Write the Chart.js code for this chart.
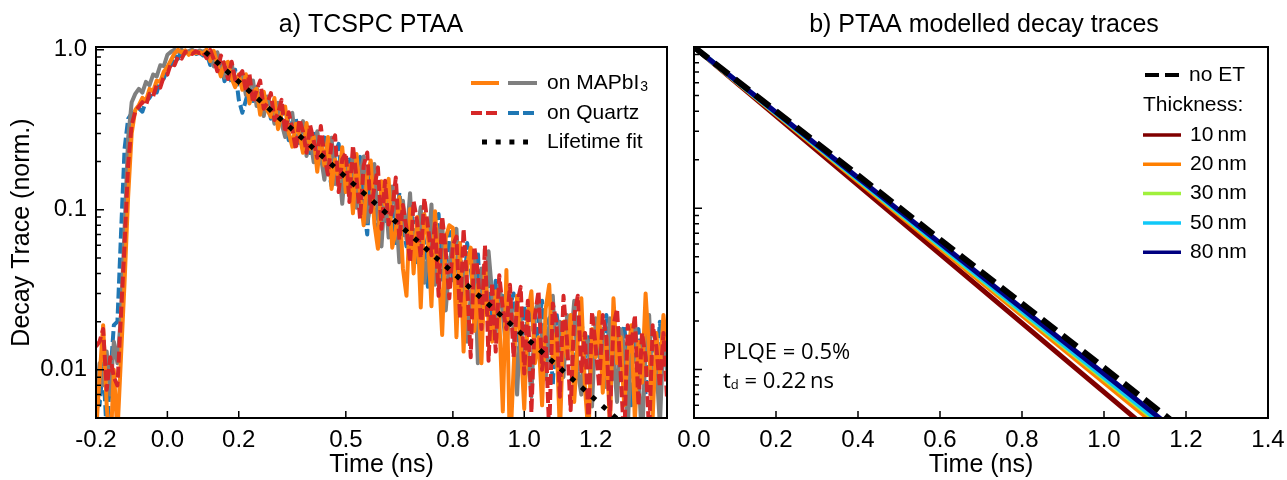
<!DOCTYPE html>
<html>
<head>
<meta charset="utf-8">
<script src="https://cdn.jsdelivr.net/npm/chart.js@4.4.0/dist/chart.umd.min.js"></script>
<style>
  body { margin: 0; background: #fff; width: 1287px; height: 480px; overflow: hidden; position: relative; }
  #wa { position: absolute; left: 0; top: 0; width: 680px; height: 480px; }
  #wb { position: absolute; left: 655px; top: 0; width: 632px; height: 480px; }
</style>
</head>
<body>
<div id="wa"><canvas id="chartA"></canvas></div>
<div id="wb"><canvas id="chartB"></canvas></div>
<script>
// ---- panel a: TCSPC traces (time in ns, normalised counts) ----
const times = [
  -0.20,-0.19,-0.18,-0.17,-0.16,-0.15,-0.14,-0.13,-0.12,-0.11,
  -0.10,-0.09,-0.08,-0.07,-0.06,-0.05,-0.04,-0.03,-0.02,-0.01,
  0.00,0.01,0.02,0.03,0.04,0.05,0.06,0.07,0.08,0.09,
  0.10,0.11,0.12,0.13,0.14,0.15,0.16,0.17,0.18,0.19,
  0.20,0.21,0.22,0.23,0.24,0.25,0.26,0.27,0.28,0.29,
  0.30,0.31,0.32,0.33,0.34,0.35,0.36,0.37,0.38,0.39,
  0.40,0.41,0.42,0.43,0.44,0.45,0.46,0.47,0.48,0.49,
  0.50,0.51,0.52,0.53,0.54,0.55,0.56,0.57,0.58,0.59,
  0.60,0.61,0.62,0.63,0.64,0.65,0.66,0.67,0.68,0.69,
  0.70,0.71,0.72,0.73,0.74,0.75,0.76,0.77,0.78,0.79,
  0.80,0.81,0.82,0.83,0.84,0.85,0.86,0.87,0.88,0.89,
  0.90,0.91,0.92,0.93,0.94,0.95,0.96,0.97,0.98,0.99,
  1.00,1.01,1.02,1.03,1.04,1.05,1.06,1.07,1.08,1.09,
  1.10,1.11,1.12,1.13,1.14,1.15,1.16,1.17,1.18,1.19,
  1.20,1.21,1.22,1.23,1.24,1.25,1.26,1.27,1.28,1.29,
  1.30,1.31,1.32,1.33,1.34,1.35,1.36,1.37,1.38,1.39,
  1.40
];

const mapiOrange = [
  0.004,0.009,0.019,0.006,0.003,0.010,0.004,0.012,0.035,0.12,
  0.30,0.42,0.45,0.50,0.48,0.57,0.55,0.64,0.63,0.73,
  0.78,0.86,0.95,1.0,0.96,0.99,0.93,0.98,0.95,0.97,
  0.94,
  1.0,0.849,0.985,0.812,0.682,0.820,0.841,0.661,0.584,0.700,
  0.562,0.702,0.462,0.542,0.572,0.392,0.547,0.419,0.381,0.500,
  0.319,0.398,0.441,0.303,0.248,0.345,0.293,0.227,0.348,0.241,
  0.286,0.173,0.281,0.189,0.285,0.135,0.206,0.155,0.246,0.129,
  0.189,0.095,0.223,0.123,0.080,0.165,0.203,0.082,0.057,0.151,
  0.108,0.156,0.058,0.074,0.120,0.043,0.029,0.101,0.040,0.090,
  0.0245,0.094,0.069,0.025,0.098,0.044,0.0165,0.067,0.080,0.077,
  0.016,0.062,0.013,0.046,0.058,0.0175,0.034,0.011,0.046,0.020,
  0.015,0.031,0.021,0.0055,0.042,0.003,0.010,0.029,0.015,0.0057,
  0.022,0.031,0.011,0.016,0.006,0.024,0.034,0.011,0.017,0.004,
  0.020,0.012,0.022,0.0063,0.015,0.028,0.0078,0.0039,0.018,0.012,
  0.023,0.0072,0.016,0.0044,0.028,0.011,0.016,0.006,0.012,0.019,
  0.0048,0.015,0.0083,0.030,0.013,0.0051,0.017,0.0095,0.022,0.013
];

const mapiGrey = [
  0.006,0.011,0.008,0.013,0.007,0.015,0.011,0.022,0.075,0.28,
  0.47,0.53,0.57,0.54,0.63,0.60,0.70,0.68,0.80,0.79,
  0.93,0.97,1.0,0.97,1.0,0.96,0.98,1.0,0.96,0.99,
  0.97,
  1.0,0.913,0.787,0.964,0.816,0.670,0.783,0.823,0.616,0.635,
  0.685,0.523,0.582,0.641,0.445,0.533,0.385,0.510,0.443,0.345,
  0.466,0.346,0.285,0.385,0.403,0.260,0.281,0.358,0.217,0.282,
  0.198,0.309,0.215,0.154,0.248,0.282,0.145,0.197,0.109,0.204,
  0.132,0.222,0.103,0.166,0.215,0.084,0.108,0.193,0.088,0.059,
  0.134,0.067,0.140,0.103,0.047,0.114,0.065,0.127,0.049,0.072,
  0.104,0.035,0.050,0.108,0.034,0.070,0.086,0.0235,0.045,0.064,
  0.076,0.027,0.042,0.015,0.029,0.053,0.011,0.043,0.023,0.055,
  0.030,0.017,0.035,0.022,0.013,0.028,0.018,0.007,0.021,0.0076,
  0.014,0.0068,0.023,0.027,0.015,0.0088,0.019,0.029,0.0105,0.020,
  0.009,0.022,0.014,0.027,0.0098,0.007,0.017,0.014,0.0059,0.021,
  0.012,0.018,0.0078,0.021,0.0125,0.0063,0.018,0.014,0.0042,0.016,
  0.020,0.0096,0.0035,0.014,0.022,0.0068,0.011,0.0045,0.016,0.0099
];

const quartzRed = [
  0.014,0.015,0.018,0.0075,0.012,0.009,0.008,0.022,0.06,0.19,
  0.34,0.41,0.44,0.47,0.45,0.53,0.51,0.60,0.58,0.68,
  0.70,0.82,0.80,0.91,0.88,0.97,0.97,0.94,0.98,0.95,
  0.97,
  0.885,1.0,0.872,0.733,0.921,0.799,0.656,0.842,0.647,0.684,
  0.734,0.551,0.704,0.466,0.558,0.641,0.428,0.463,0.536,0.364,
  0.400,0.486,0.304,0.407,0.321,0.238,0.367,0.309,0.227,0.338,
  0.270,0.211,0.334,0.214,0.166,0.259,0.292,0.129,0.207,0.227,
  0.112,0.252,0.158,0.088,0.189,0.228,0.097,0.138,0.184,0.076,
  0.152,0.081,0.099,0.159,0.065,0.107,0.077,0.047,0.113,0.084,
  0.050,0.118,0.079,0.052,0.082,0.029,0.091,0.055,0.028,0.060,
  0.068,0.021,0.076,0.034,0.012,0.059,0.041,0.018,0.060,0.0114,
  0.035,0.013,0.039,0.024,0.018,0.034,0.012,0.026,0.033,0.0095,
  0.027,0.0054,0.022,0.031,0.010,0.016,0.004,0.026,0.020,0.0068,
  0.029,0.015,0.0056,0.022,0.029,0.0098,0.017,0.0046,0.023,0.014,
  0.0078,0.022,0.016,0.005,0.019,0.024,0.0096,0.0036,0.019,0.014,
  0.022,0.006,0.017,0.012,0.004,0.019,0.014,0.0078,0.017,0.0066
];

const quartzBlue = [
  0.010,0.006,0.011,0.004,0.009,0.019,0.02,0.07,0.24,0.37,
  0.40,0.41,0.43,0.41,0.48,0.50,0.55,0.54,0.64,0.66,
  0.76,0.80,0.92,0.88,0.99,0.95,0.96,0.98,0.94,0.96,
  0.92,
  0.955,0.803,0.916,0.772,0.878,0.635,0.727,0.628,0.750,0.488,
  0.404,0.483,0.582,0.478,0.585,0.414,0.462,0.522,0.371,0.434,
  0.354,0.429,0.352,0.272,0.354,0.371,0.248,0.269,0.312,0.226,
  0.307,0.190,0.224,0.283,0.185,0.141,0.226,0.258,0.139,0.163,
  0.206,0.121,0.173,0.214,0.106,0.070,0.173,0.114,0.070,0.127,
  0.085,0.137,0.115,0.062,0.128,0.080,0.059,0.099,0.082,0.047,
  0.086,0.062,0.033,0.086,0.063,0.094,0.035,0.047,0.073,0.035,
  0.047,0.058,0.025,0.062,0.043,0.026,0.055,0.020,0.031,0.040,
  0.020,0.036,0.025,0.029,0.015,0.025,0.030,0.018,0.011,0.025,
  0.018,0.025,0.013,0.020,0.027,0.014,0.021,0.008,0.023,0.015,
  0.012,0.021,0.017,0.0084,0.018,0.021,0.012,0.016,0.0091,0.020,
  0.016,0.010,0.022,0.014,0.0088,0.018,0.012,0.019,0.011,0.006,
  0.016,0.018,0.011,0.007,0.018,0.014,0.009,0.020,0.012,0.019
];

// mono-exponential fit, end points
const fitTimes = [0.106, 1.40];
const fitValues = [0.97, 0.0026];

// ---- panel b: modelled decays ----
const modelTimes = [0, 1.2];
const noET = [1, 0.0041];
const thickness = ['10\u2009nm', '20\u2009nm', '30\u2009nm', '50\u2009nm', '80\u2009nm'];
const thickColors = ['#800000', '#ff7f00', '#a0f03c', '#10c8f8', '#000080'];
const thickEnd = [0.0027, 0.0032, 0.0034, 0.0035, 0.0037];

// ticks
const xTicksA = [-0.2, 0.0, 0.2, 0.5, 0.8, 1.0, 1.2];
const xTicksB = [0.0, 0.2, 0.4, 0.6, 0.8, 1.0, 1.2, 1.4];
const yMajor = [0.01, 0.1, 1];
const yLabels = ['0.01', '0.1', '1.0'];
const yMinor = [0.006,0.007,0.008,0.009,0.02,0.03,0.04,0.05,0.06,0.07,0.08,0.09,
                0.2,0.3,0.4,0.5,0.6,0.7,0.8,0.9];

const SANS = '"Liberation Sans", Arial, sans-serif';
Chart.defaults.font.family = SANS;
Chart.defaults.color = '#000';

function pts(xs, ys) { return xs.map((x, i) => ({ x: x, y: ys[i] })); }

function seg(ctx, color, dash, x0, x1, y) {
  ctx.strokeStyle = color;
  ctx.setLineDash(dash);
  ctx.beginPath(); ctx.moveTo(x0, y); ctx.lineTo(x1, y); ctx.stroke();
  ctx.setLineDash([]);
}

// inward ticks, full frame, title and extra annotations
function makeFrame(cfg) {
  return {
    id: 'frame' + cfg.name,
    afterDraw(chart) {
      const ctx = chart.ctx, a = chart.chartArea;
      const xs = chart.scales.x, ys = chart.scales.y;
      ctx.save();
      ctx.strokeStyle = '#000';
      ctx.lineWidth = 1.5;
      ctx.beginPath();
      cfg.xTicks.forEach(v => {
        const p = xs.getPixelForValue(v);
        ctx.moveTo(p, a.bottom); ctx.lineTo(p, a.bottom - 7);
      });
      yMajor.forEach(v => {
        const p = ys.getPixelForValue(v);
        ctx.moveTo(a.left, p); ctx.lineTo(a.left + 8, p);
      });
      yMinor.forEach(v => {
        const p = ys.getPixelForValue(v);
        ctx.moveTo(a.left, p); ctx.lineTo(a.left + 5, p);
      });
      ctx.stroke();
      ctx.lineWidth = 2;
      ctx.strokeRect(a.left, a.top, a.right - a.left, a.bottom - a.top);

      ctx.fillStyle = '#000';
      ctx.font = '25px ' + SANS;
      ctx.textAlign = 'center';
      ctx.textBaseline = 'middle';
      ctx.fillText(cfg.title, cfg.titleX, 25);
      ctx.textAlign = 'left';
      cfg.extra(ctx);
      ctx.restore();
    }
  };
}

function legendA(ctx) {
  ctx.lineWidth = 4;
  ctx.lineCap = 'butt';
  seg(ctx, '#ff7f0e', [], 471, 499, 83);
  seg(ctx, '#7f7f7f', [], 508, 537, 83);
  seg(ctx, '#d62728', [11, 4], 471, 499, 113);
  seg(ctx, '#1f77b4', [11, 4], 508, 536, 113);
  ctx.lineWidth = 5;
  seg(ctx, '#000', [5, 8.7], 482, 528, 142);
  ctx.font = '21px ' + SANS;
  ctx.textBaseline = 'middle';
  ctx.fillText('on MAPbI', 547, 83);
  const w = ctx.measureText('on MAPbI').width;
  ctx.fillText('on Quartz', 547, 113);
  ctx.fillText('Lifetime fit', 547, 142);
  ctx.font = '14px ' + SANS;
  ctx.textBaseline = 'alphabetic';
  ctx.fillText('3', 547 + w + 1, 91);
}

function legendB(ctx) {
  ctx.lineCap = 'butt';
  ctx.lineWidth = 4;
  seg(ctx, '#000', [14, 6], 490, 524, 75);
  ctx.font = '21px ' + SANS;
  ctx.textBaseline = 'middle';
  ctx.fillText('no ET', 534, 75);
  ctx.fillText('Thickness:', 488, 105);
  ctx.lineWidth = 3.5;
  thickness.forEach((t, i) => {
    const y = 135 + i * 29.3;
    seg(ctx, thickColors[i], [], 488, 526, y);
    ctx.fillText(t, 535, y);
  });
  // annotation
  ctx.textBaseline = 'alphabetic';
  ctx.font = '22px "Open Sans", sans-serif';
  ctx.fillText('PLQE = 0.5%', 68, 359);
  ctx.fillText('t', 68, 388);
  const tw = ctx.measureText('t').width;
  ctx.font = '13px "Open Sans", sans-serif';
  ctx.fillText('d', 68 + tw, 389);
  const dw = ctx.measureText('d').width;
  ctx.font = '22px "Open Sans", sans-serif';
  ctx.fillText(' = 0.22\u2009ns', 68 + tw + dw, 388);
}

const lineEl = { tension: 0, borderJoinStyle: 'round', fill: false };

new Chart(document.getElementById('chartA'), {
  type: 'line',
  data: {
    datasets: [
      { label: 'Lifetime fit', data: pts(fitTimes, fitValues), borderColor: '#000', borderWidth: 5, borderDash: [5, 9], borderCapStyle: 'butt' },
      { label: 'on Quartz', data: pts(times, quartzRed), borderColor: '#d62728', borderWidth: 4, borderDash: [11, 4] },
      { label: 'on MAPbI3', data: pts(times, mapiOrange), borderColor: '#ff7f0e', borderWidth: 4 },
      { label: 'on MAPbI3 ', data: pts(times, mapiGrey), borderColor: '#7f7f7f', borderWidth: 4 },
      { label: 'on Quartz ', data: pts(times, quartzBlue), borderColor: '#1f77b4', borderWidth: 4, borderDash: [11, 4] }
    ]
  },
  options: {
    responsive: true, maintainAspectRatio: false, animation: false, devicePixelRatio: 1,
    layout: { padding: { top: 47, right: 13, left: 0, bottom: 0 } },
    elements: { point: { radius: 0 }, line: lineEl },
    plugins: { legend: { display: false }, tooltip: { enabled: false } },
    scales: {
      x: {
        type: 'linear', min: -0.2, max: 1.4,
        afterBuildTicks: s => { s.ticks = xTicksA.map(v => ({ value: v })); },
        afterFit: s => { s.height = 62; s.paddingLeft = 0; s.paddingRight = 0; },
        grid: { display: false }, border: { display: false },
        ticks: { font: { size: 24 }, color: '#000', padding: 0, maxRotation: 0, autoSkip: false,
                 callback: v => v.toFixed(1) },
        title: { display: true, text: 'Time (ns)', font: { size: 25 }, color: '#000', padding: { top: 0, bottom: 0 } }
      },
      y: {
        type: 'logarithmic', min: 0.005, max: 1.04,
        afterBuildTicks: s => { s.ticks = yMajor.map(v => ({ value: v })); },
        afterFit: s => { s.width = 96; },
        grid: { display: false, drawTicks: false }, border: { display: false },
        ticks: { font: { size: 24 }, color: '#000', padding: 9, autoSkip: false,
                 callback: (v, i) => yLabels[i] },
        title: { display: true, text: 'Decay Trace (norm.)', font: { size: 25 }, color: '#000', padding: { top: 7, bottom: 0 } }
      }
    }
  },
  plugins: [makeFrame({ name: 'A', xTicks: xTicksA.slice(1), title: 'a) TCSPC PTAA', titleX: 371, extra: legendA })]
});

const modelSets = [{ label: 'no ET', data: pts(modelTimes, noET), borderColor: '#000', borderWidth: 6, borderDash: [18, 8], borderCapStyle: 'butt' }];
for (let i = thickness.length - 1; i >= 0; i--) {
  modelSets.push({ label: thickness[i], data: pts(modelTimes, [1, thickEnd[i]]), borderColor: thickColors[i], borderWidth: 5 });
}

new Chart(document.getElementById('chartB'), {
  type: 'line',
  data: { datasets: modelSets },
  options: {
    responsive: true, maintainAspectRatio: false, animation: false, devicePixelRatio: 1,
    layout: { padding: { top: 47, right: 19, left: 0, bottom: 0 } },
    elements: { point: { radius: 0 }, line: lineEl },
    plugins: { legend: { display: false }, tooltip: { enabled: false } },
    scales: {
      x: {
        type: 'linear', min: 0, max: 1.4,
        afterBuildTicks: s => { s.ticks = xTicksB.map(v => ({ value: v })); },
        afterFit: s => { s.height = 62; s.paddingLeft = 0; s.paddingRight = 0; },
        grid: { display: false }, border: { display: false },
        ticks: { font: { size: 24 }, color: '#000', padding: 0, maxRotation: 0, autoSkip: false,
                 callback: v => v.toFixed(1) },
        title: { display: true, text: 'Time (ns)', font: { size: 25 }, color: '#000', padding: { top: 0, bottom: 0 } }
      },
      y: {
        type: 'logarithmic', min: 0.005, max: 1.0,
        afterBuildTicks: s => { s.ticks = yMajor.map(v => ({ value: v })); },
        afterFit: s => { s.width = 39; },
        grid: { display: false }, border: { display: false },
        ticks: { display: false }
      }
    }
  },
  plugins: [makeFrame({ name: 'B', xTicks: xTicksB.slice(1, -1), title: 'b) PTAA modelled decay traces', titleX: 329, extra: legendB })]
});
</script>
</body>
</html>
